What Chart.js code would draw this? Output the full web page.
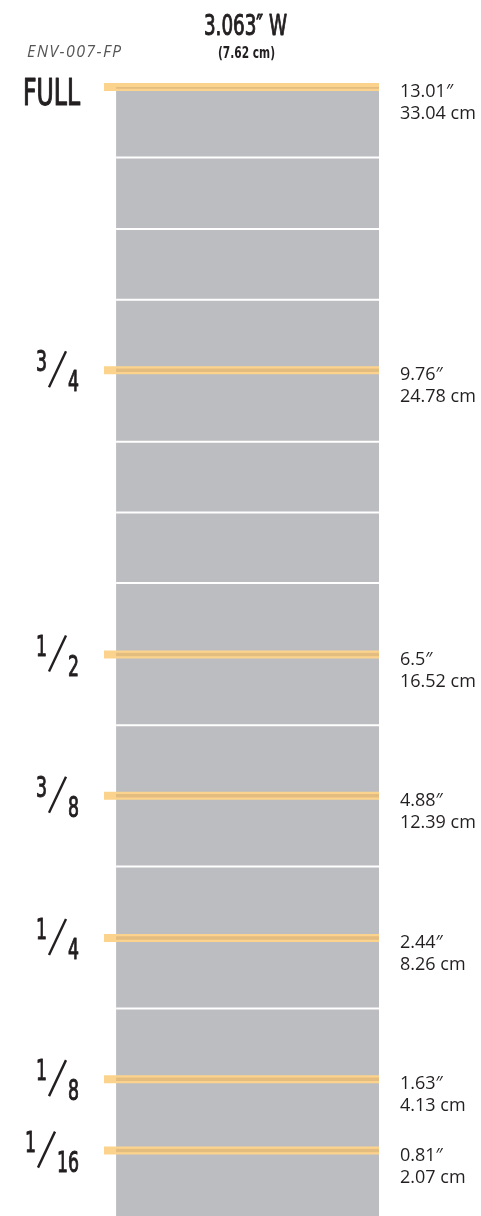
<!DOCTYPE html>
<html>
<head>
<meta charset="utf-8">
<script src="https://cdn.jsdelivr.net/npm/chart.js@4.4.1/dist/chart.umd.min.js"></script>
<style>
  html, body { margin: 0; padding: 0; background: #fff; overflow: hidden; }
  canvas { display: block; }
</style>
</head>
<body>
<canvas id="gauge" width="481" height="1216"></canvas>
<script>
// fill marks, top to bottom
var markNum = ['FULL', '3', '1', '3', '1', '1', '1'];
var markDen = ['', '4', '2', '8', '4', '8', '16'];
var markInches = [13.01, 9.76, 6.5, 4.88, 3.25, 1.63, 0.81];
var inchLabels = ['13.01\u2033', '9.76\u2033', '6.5\u2033', '4.88\u2033', '2.44\u2033', '1.63\u2033', '0.81\u2033'];
var cmLabels = ['33.04 cm', '24.78 cm', '16.52 cm', '12.39 cm', '8.26 cm', '4.13 cm', '2.07 cm'];

// white division lines inside the tube (inches)
var divisions = [12.20, 11.38, 10.57, 9.76, 8.94, 8.13, 7.32, 6.5, 5.69, 4.88, 4.07, 3.25, 2.44, 1.63, 0.81];
var tubeHeight = 13.01;

var partName = 'ENV-007-FP';
var widthLabel = '3.063\u2033 W';
var widthCmLabel = '(7.62 cm)';

var TUBE_LEFT = 0.044;   // tube starts a little right of the orange stubs
var GRAY = '#bcbdc0';
var ORANGE = '#fcd38c';
var ORANGE_DARK = '#e3bc80';
var INK = '#231f20';
var NARROW = '"Liberation Sans Narrow", "DejaVu Sans Condensed", "Liberation Sans", sans-serif';

function segments(levels, x0) {
  var pts = [];
  levels.forEach(function(v) {
    pts.push({x: x0, y: v}, {x: 1, y: v}, {x: 1, y: null});
  });
  return pts;
}

// draw text squeezed to a given width; align is 'left' | 'right' | 'center'
function squeezed(ctx, text, x, y, font, width, align, weight) {
  ctx.save();
  ctx.font = font;
  ctx.textAlign = 'left';
  ctx.textBaseline = 'alphabetic';
  var w = ctx.measureText(text).width;
  var sx = width / w;
  var left = align === 'right' ? x - width : (align === 'center' ? x - width / 2 : x);
  ctx.translate(left, y);
  ctx.scale(sx, 1);
  ctx.fillText(text, 0, 0);
  if (weight) {
    ctx.lineWidth = weight;
    ctx.lineJoin = 'round';
    ctx.strokeText(text, 0, 0);
  }
  ctx.restore();
}

function narrowWidth(ctx, text, font, digitW) {
  ctx.save();
  ctx.font = font;
  var k = digitW / ctx.measureText('0').width;
  var w = ctx.measureText(text).width * k;
  ctx.restore();
  return w;
}

var markLabels = {
  id: 'markLabels',
  afterDraw: function(chart) {
    var ctx = chart.ctx;
    var ys = chart.scales.y;
    ctx.save();
    ctx.fillStyle = INK;
    ctx.strokeStyle = INK;

    // header
    squeezed(ctx, widthLabel, 245.5, 35, '28px ' + NARROW, 83, 'center', 1);
    squeezed(ctx, widthCmLabel, 246.5, 58, 'bold 16px ' + NARROW, 57, 'center');
    ctx.fillStyle = '#555';
    ctx.font = 'italic 16px "Open Sans", sans-serif';
    ctx.letterSpacing = '1.4px';
    ctx.fillText(partName, 27, 57);
    ctx.letterSpacing = '0px';

    markInches.forEach(function(v, i) {
      var py = ys.getPixelForValue(v);
      ctx.fillStyle = INK;
      ctx.strokeStyle = INK;

      if (!markDen[i]) {
        squeezed(ctx, markNum[i], 80, py + 18, '38px ' + NARROW, 57, 'right', 1.2);
      } else {
        var f = '29px ' + NARROW;
        var denW = narrowWidth(ctx, markDen[i], f, 11);
        var numW = narrowWidth(ctx, markNum[i], f, 11);
        var denLeft = 79 - denW;
        squeezed(ctx, markDen[i], 79, py + 21, f, denW, 'right', 1);
        var sl = denLeft - 20;
        squeezed(ctx, markNum[i], sl - 1, py + 1, f, numW, 'right', 1);
        ctx.lineWidth = 2.4;
        ctx.beginPath();
        ctx.moveTo(sl + 1, py + 17);
        ctx.lineTo(sl + 18, py - 19);
        ctx.stroke();
      }

      ctx.fillStyle = INK;
      ctx.font = '18px "Open Sans", sans-serif';
      ctx.textAlign = 'left';
      ctx.fillText(inchLabels[i], 400, py + 10);
      ctx.fillText(cmLabels[i], 400, py + 32);
    });
    ctx.restore();
  }
};

new Chart(document.getElementById('gauge'), {
  type: 'line',
  data: {
    datasets: [
      {
        label: 'mark core',
        data: segments(markInches, TUBE_LEFT),
        borderColor: ORANGE_DARK,
        borderWidth: 3.5,
        pointRadius: 0,
        clip: 0,
        order: 0
      },
      {
        label: 'mark',
        data: segments(markInches, 0),
        borderColor: ORANGE,
        borderWidth: 8,
        pointRadius: 0,
        clip: false,
        order: 1
      },
      {
        label: 'divisions',
        data: segments(divisions, TUBE_LEFT),
        borderColor: '#ffffff',
        borderWidth: 2,
        pointRadius: 0,
        order: 2
      },
      {
        label: 'tube',
        data: [{x: TUBE_LEFT, y: tubeHeight}, {x: 1, y: tubeHeight}],
        borderWidth: 0,
        backgroundColor: GRAY,
        fill: 'start',
        pointRadius: 0,
        order: 3
      }
    ]
  },
  options: {
    responsive: false,
    devicePixelRatio: 1,
    animation: false,
    layout: { padding: { left: 104, right: 102, top: 87, bottom: 0 } },
    elements: { line: { tension: 0, borderCapStyle: 'butt' } },
    scales: {
      x: { type: 'linear', min: 0, max: 1, display: false },
      y: { type: 'linear', min: 0.06, max: tubeHeight, display: false }
    },
    plugins: {
      legend: { display: false },
      tooltip: { enabled: false }
    }
  },
  plugins: [markLabels]
});
</script>
</body>
</html>
